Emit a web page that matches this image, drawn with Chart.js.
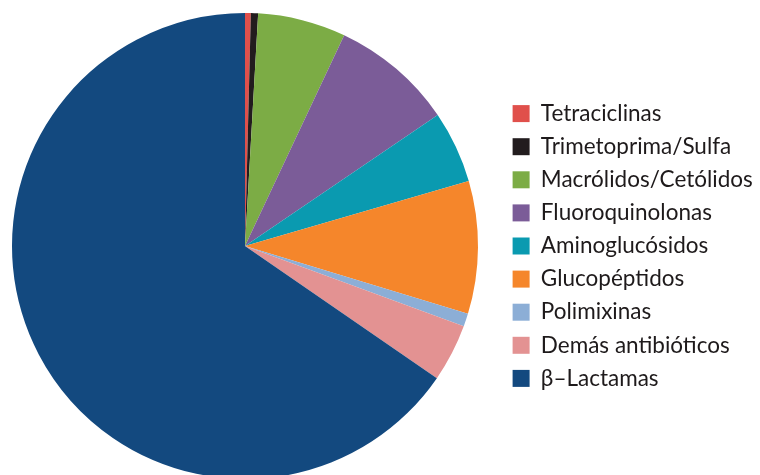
<!DOCTYPE html>
<html lang="es">
<head>
<meta charset="utf-8">
<title>Antibióticos</title>
<script src="https://cdn.jsdelivr.net/npm/chart.js@4"></script>
<style>
    html, body { margin: 0; padding: 0; background: #fff; overflow: hidden; }
    body { width: 760px; height: 475px; position: relative; }
    #pieChart { position: absolute; left: -12px; top: 0; }
</style>
</head>
<body>
<canvas id="pieChart" width="790" height="479"></canvas>
<script>
// Categorías y porcentajes
const categories = [
    'Tetraciclinas',
    'Trimetoprima/Sulfa',
    'Macrólidos/Cetólidos',
    'Fluoroquinolonas',
    'Aminoglucósidos',
    'Glucopéptidos',
    'Polimixinas',
    'Demás antibióticos',
    'β–Lactamas'
];
const shares = [0.4, 0.5, 6.1, 8.5, 5.0, 9.2, 0.9, 4.0, 65.4];
const sliceColors = [
    '#e0504b', '#221c1e', '#7cac45', '#7b5c98', '#0a9ab0',
    '#f5862b', '#8caed6', '#e39292', '#13497f'
];

const ctx = document.getElementById('pieChart').getContext('2d');
new Chart(ctx, {
    type: 'pie',
    data: {
        labels: categories,
        datasets: [{
            data: shares,
            backgroundColor: sliceColors,
            borderWidth: 0
        }]
    },
    options: {
        responsive: false,
        animation: false,
        // el pastel queda cortado abajo, como en el original
        layout: { padding: { top: 13, left: 0, right: 26, bottom: 0 } },
        plugins: {
            tooltip: { enabled: false },
            legend: {
                position: 'right',
                maxWidth: 250,
                labels: {
                    boxWidth: 17,
                    boxHeight: 17,
                    padding: 10.6,
                    color: '#1e1a1b',
                    font: { family: 'Lato', size: 22.5 }
                }
            }
        }
    }
});
</script>
</body>
</html>
